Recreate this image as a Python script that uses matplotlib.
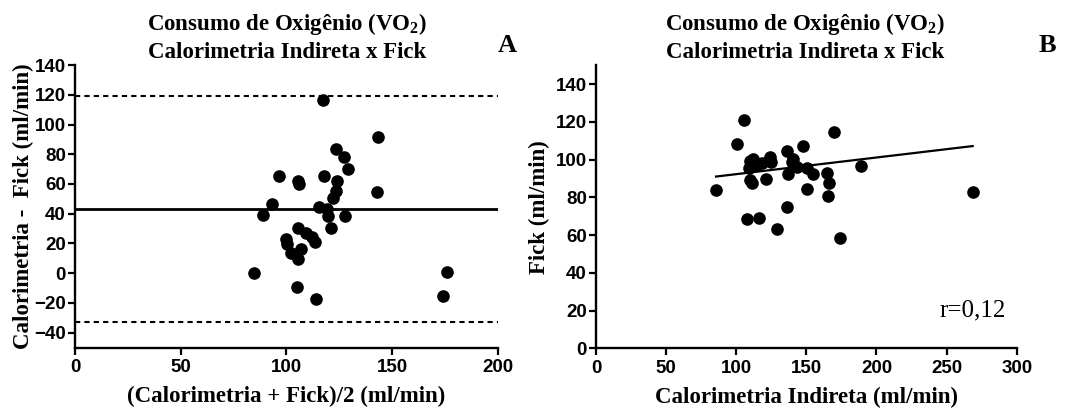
import matplotlib
matplotlib.use("Agg")
import matplotlib.pyplot as plt
import numpy as np

# ---------------- data ----------------
# Panel A: Bland-Altman (mean vs difference)
ba_mean = [117.2, 143.5, 123.5, 127.4, 129.3, 96.7, 117.8, 105.7, 106.1, 123.8,
           123.5, 122.2, 143.0, 93.0, 115.6, 119.4, 88.8, 119.9, 127.7, 105.7,
           121.1, 109.3, 112.0, 113.6, 99.8, 100.5, 106.8, 102.2, 105.7, 84.7,
           104.9, 114.0, 175.9, 174.0]
ba_diff = [116.2, 91.6, 83.7, 78.1, 70.0, 65.7, 65.5, 61.7, 59.9, 61.7,
           55.6, 50.5, 54.3, 46.7, 44.4, 43.1, 39.0, 38.6, 38.6, 30.7,
           30.3, 26.9, 24.7, 21.3, 22.9, 19.7, 16.2, 13.5, 9.4, 0.4,
           -9.0, -17.5, 0.7, -15.1]
bias = 43.0
loa_upper = 119.0
loa_lower = -33.0

# Panel B: correlation
calorimetria = [105.5, 100.3, 147.4, 136.0, 124.1, 124.6, 109.8, 114.6, 109.3, 139.5,
                143.1, 137.2, 121.2, 109.8, 111.0, 150.3, 154.5, 164.5, 166.4, 165.7,
                150.3, 85.6, 136.0, 107.9, 116.2, 128.9, 169.7, 174.0, 188.8, 268.6,
                112.0, 118.5, 140.5]
fick = [121.0, 108.2, 107.4, 104.8, 101.6, 98.9, 99.3, 97.2, 95.4, 98.9,
        96.3, 92.4, 89.8, 89.2, 87.5, 95.4, 92.4, 93.1, 87.5, 80.8,
        84.3, 83.9, 74.8, 68.7, 69.1, 63.3, 114.5, 58.3, 96.7, 82.7,
        100.5, 98.5, 100.5]
reg_slope = 0.0883
reg_intercept = 83.5
r_text = "r=0,12"

xticks_a = [0, 50, 100, 150, 200]
yticks_a = [-40, -20, 0, 20, 40, 60, 80, 100, 120, 140]
xticks_b = [0, 50, 100, 150, 200, 250, 300]
yticks_b = [0, 20, 40, 60, 80, 100, 120, 140]

title1 = "Consumo de Oxigênio (VO$_{\\mathbf{2}}$)"
title2 = "Calorimetria Indireta x Fick"

# ---------------- style ----------------
plt.rcParams['mathtext.fontset'] = 'custom'
plt.rcParams['mathtext.rm'] = 'Liberation Serif'
plt.rcParams['mathtext.bf'] = 'Liberation Serif:bold'

serif = 'Liberation Serif'
sans = 'Liberation Sans'
label_fs = 16.5
tick_fs = 13.5
title_fs = 16.5

fig = plt.figure(figsize=(10.7, 4.12), dpi=100)
axA = fig.add_axes([0.0701, 0.1563, 0.3950, 0.6859])
axB = fig.add_axes([0.5570, 0.1546, 0.3932, 0.6867])

def style(ax, xlim, ylim, xt, yt):
    ax.set_xlim(*xlim)
    ax.set_ylim(*ylim)
    ax.set_xticks(xt)
    ax.set_yticks(yt)
    for s in ['top', 'right']:
        ax.spines[s].set_visible(False)
    for s in ['left', 'bottom']:
        ax.spines[s].set_linewidth(1.7)
    ax.tick_params(axis='x', direction='out', length=5, width=1.6, pad=3.5)
    ax.tick_params(axis='y', direction='out', length=5, width=1.6, pad=1.5)
    for lab in ax.get_xticklabels() + ax.get_yticklabels():
        lab.set_fontfamily(sans)
        lab.set_fontweight('bold')
        lab.set_fontsize(tick_fs)

# Panel A
style(axA, (0, 200), (-50, 140), xticks_a, yticks_a)
axA.scatter(ba_mean, ba_diff, s=65, color='black', zorder=3, clip_on=False)
axA.axhline(bias, color='black', lw=2.0, zorder=2)
axA.axhline(loa_upper, color='black', lw=1.5, ls=(0, (2.5, 2)), zorder=2)
axA.axhline(loa_lower, color='black', lw=1.5, ls=(0, (2.5, 2)), zorder=2)
axA.set_xlabel("(Calorimetria + Fick)/2 (ml/min)", fontfamily=serif,
               fontweight='bold', fontsize=label_fs, labelpad=7)
axA.set_ylabel("Calorimetria -  Fick (ml/min)", fontfamily=serif,
               fontweight='bold', fontsize=label_fs, labelpad=0)

# Panel B
style(axB, (0, 300), (0, 150), xticks_b, yticks_b)
axB.scatter(calorimetria, fick, s=65, color='black', zorder=3, clip_on=False)
xr = np.array([min(calorimetria), max(calorimetria)])
axB.plot(xr, reg_intercept + reg_slope * xr, color='black', lw=1.6, zorder=2)
axB.text(0.975, 0.135, r_text, transform=axB.transAxes, ha='right', va='center',
         fontfamily=serif, fontsize=18)
axB.set_xlabel("Calorimetria Indireta (ml/min)", fontfamily=serif,
               fontweight='bold', fontsize=label_fs, labelpad=7)
axB.set_ylabel("Fick (ml/min)", fontfamily=serif,
               fontweight='bold', fontsize=label_fs, labelpad=4)

# Titles and panel letters
for cx in [287 / 1070, 805 / 1070]:
    fig.text(cx, 1 - 24 / 412, title1, ha='center', va='center',
             fontfamily=serif, fontweight='bold', fontsize=title_fs)
    fig.text(cx, 1 - 53 / 412, title2, ha='center', va='center',
             fontfamily=serif, fontweight='bold', fontsize=title_fs)
fig.text(507 / 1070, 1 - 46 / 412, "A", ha='center', va='center',
         fontfamily=serif, fontweight='bold', fontsize=19)
fig.text(1047 / 1070, 1 - 46 / 412, "B", ha='center', va='center',
         fontfamily=serif, fontweight='bold', fontsize=19)

fig.savefig("out.png", dpi=100, facecolor='white')
